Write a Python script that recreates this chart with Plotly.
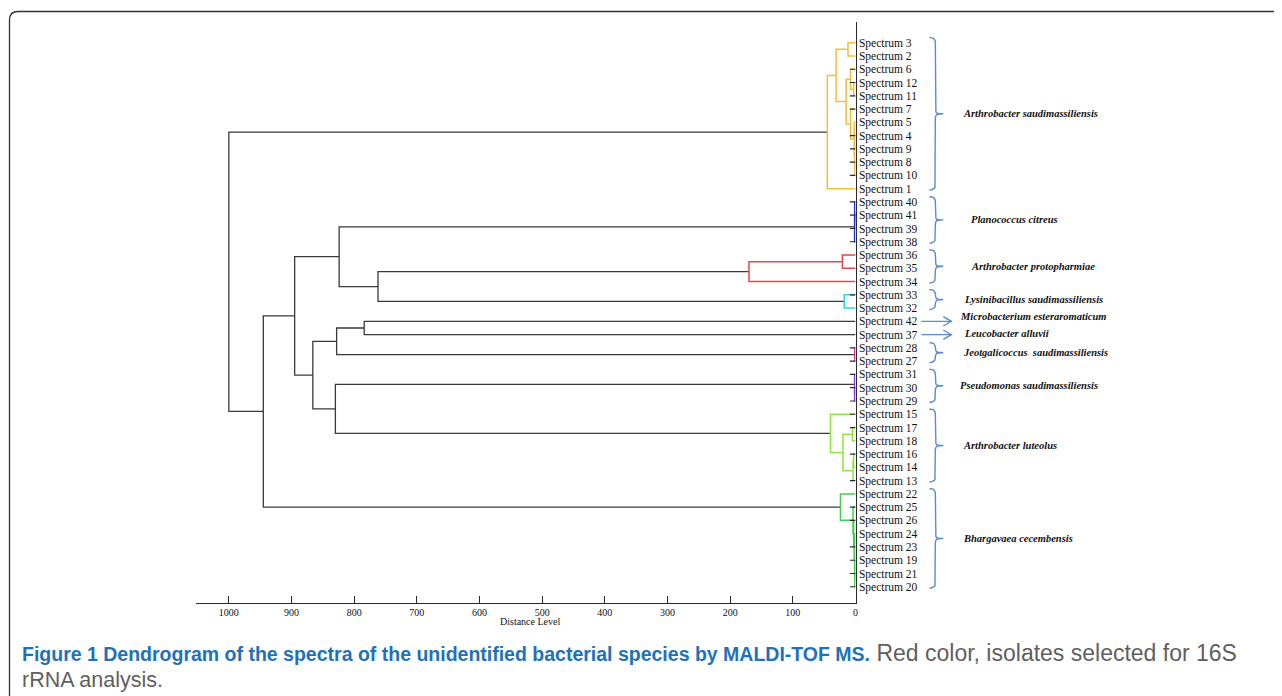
import plotly.graph_objects as go

W, H = 1282, 696
OFF = 8  # page body margin of the generated html

# ---------------- data ----------------
# leaf order, top to bottom (spectrum numbers)
leaf_ids = [3, 2, 6, 12, 11, 7, 5, 4, 9, 8, 10, 1,
            40, 41, 39, 38, 36, 35, 34, 33, 32, 42, 37,
            28, 27, 31, 30, 29, 15, 17, 18, 16, 14, 13,
            22, 25, 26, 24, 23, 19, 21, 20]

# merges: (node, left child, right child, distance level, cluster colour key)
merges = [
    ("y1", "S3", "S2", 12, "yellow"),
    ("y2", "S12", "S11", 3, "yellow"),
    ("y3", "S6", "y2", 8, "yellow"),
    ("y4", "S4", "S9", 1, "yellow"),
    ("y5", "S8", "S10", 1, "yellow"),
    ("y6", "y4", "y5", 1.5, "yellow"),
    ("y7", "S5", "y6", 2, "yellow"),
    ("y8", "S7", "y7", 8, "yellow"),
    ("y9", "y3", "y8", 15, "yellow"),
    ("y10", "y1", "y9", 31, "yellow"),
    ("yR", "y10", "S1", 45, "yellow"),
    ("p1", "S41", "S39", 1.3, "blue"),
    ("p2", "S40", "p1", 1.3, "blue"),
    ("p3", "p2", "S38", 1.5, "blue"),
    ("r1", "S36", "S35", 21, "red"),
    ("r2", "r1", "S34", 170, "red"),
    ("c1", "S33", "S32", 18, "cyan"),
    ("nB", "r2", "c1", 762, "black"),
    ("nA", "p3", "nB", 824, "black"),
    ("nG", "S42", "S37", 784, "black"),
    ("j1", "S28", "S27", 1.3, "pink"),
    ("nF", "nG", "j1", 828, "black"),
    ("q1", "S30", "S29", 1.3, "purple"),
    ("q2", "S31", "q1", 1.5, "purple"),
    ("l1", "S17", "S18", 5, "lime"),
    ("l2", "S16", "S14", 3, "lime"),
    ("l3", "l2", "S13", 4, "lime"),
    ("l4", "l1", "l3", 20, "lime"),
    ("l5", "S15", "l4", 40, "lime"),
    ("nH", "q2", "l5", 830, "black"),
    ("nE", "nF", "nH", 866, "black"),
    ("nC", "nA", "nE", 895, "black"),
    ("g1", "S21", "S20", 1, "green"),
    ("g2", "S19", "g1", 1.2, "green"),
    ("g3", "S23", "g2", 1.5, "green"),
    ("g4", "S24", "g3", 2, "green"),
    ("g5", "S26", "g4", 3, "green"),
    ("g6", "S25", "g5", 4, "green"),
    ("g7", "S22", "g6", 24, "green"),
    ("nD", "nC", "g7", 945, "black"),
    ("root", "yR", "nD", 1000, "black"),
]

# leaves carrying a short black leaf stub
stub_leaves = [6, 12, 11, 7, 4, 9, 8, 10, 40, 41, 39, 38, 33, 28, 27, 31, 30, 29,
               15, 17, 16, 13, 25, 26, 23, 19, 21, 20]
stub_length = 9

# species groups (first / last leaf position, 1-based)
species = ["Arthrobacter saudimassiliensis", "Planococcus citreus",
           "Arthrobacter protopharmiae", "Lysinibacillus saudimassiliensis",
           "Jeotgalicoccus  saudimassiliensis", "Pseudomonas saudimassiliensis",
           "Arthrobacter luteolus", "Bhargavaea cecembensis"]
species_first = [1, 13, 17, 20, 24, 26, 29, 35]
species_last = [12, 16, 19, 21, 25, 28, 34, 42]

arrow_species = ["Microbacterium esteraromaticum", "Leucobacter alluvii"]
arrow_leaf = [22, 23]

x_ticks = [0, 100, 200, 300, 400, 500, 600, 700, 800, 900, 1000]

caption_bold = "Figure 1 Dendrogram of the spectra of the unidentified bacterial species by MALDI-TOF MS."
caption_rest = "Red color, isolates selected for 16S"
caption_line2 = "rRNA analysis."

# ---------------- styles ----------------
colors = {
    "black": "#3a3a3a", "yellow": "#F3BE3A", "blue": "#1E32D8", "red": "#E5474B",
    "cyan": "#2FD6E6", "pink": "#D0359E", "purple": "#8B3CD6", "lime": "#8FE640",
    "green": "#3ED24E",
}
brace_color = "#5B8BD0"
serif = "Liberation Serif, Times New Roman, serif"
sans = "Liberation Sans, Arial, sans-serif"

# ---------------- dendrogram geometry ----------------
pos = {f"S{n}": (0.0, i + 1) for i, n in enumerate(leaf_ids)}
seg = {k: ([], []) for k in colors}
for name, a, b, h, key in merges:
    xa, ya = pos[a]
    xb, yb = pos[b]
    xs, ys = seg[key]
    xs += [xa, h, h, xb, None]
    ys += [ya, ya, yb, yb, None]
    pos[name] = (h, (ya + yb) / 2)

fig = go.Figure()
order = ["black", "yellow", "red", "cyan", "lime", "green", "blue", "pink", "purple"]
for key in order:
    xs, ys = seg[key]
    if not xs:
        continue
    fig.add_trace(go.Scatter(
        x=xs, y=ys, mode="lines", xaxis="x", yaxis="y",
        line=dict(color=colors[key], width=1.3 if key == "black" else 1.5),
        hoverinfo="skip", showlegend=False, cliponaxis=False))

sx, sy = [], []
for n in stub_leaves:
    yy = leaf_ids.index(n) + 1
    sx += [0, stub_length, None]
    sy += [yy, yy, None]
fig.add_trace(go.Scatter(x=sx, y=sy, mode="lines", xaxis="x", yaxis="y",
                         line=dict(color="#2a2a2a", width=1.2),
                         hoverinfo="skip", showlegend=False, cliponaxis=False))

# ---------------- braces & arrows (right panel, x2 in px from the zero line) ----------------
def bez(p0, p1, p2, n=8):
    out = []
    for i in range(n + 1):
        t = i / n
        out.append(((1 - t) ** 2 * p0[0] + 2 * (1 - t) * t * p1[0] + t ** 2 * p2[0],
                    (1 - t) ** 2 * p0[1] + 2 * (1 - t) * t * p1[1] + t ** 2 * p2[1]))
    return out

xl, xv, xt = 74, 80, 88
r = 0.35
bx, by = [], []
annots = []
label_font = dict(family=serif, size=10.5, color="#111", style="italic", weight="bold")
label_dx = [105.5, 114, 114, 106.5, 105.5, 102.5, 105.5, 105.5]
for sp, f, l, dx in zip(species, species_first, species_last, label_dx):
    top = f - 0.4
    bot = l + 0.1
    mid = (top + bot) / 2
    pts = bez((xl, top), (xv, top), (xv, top + r))
    pts += bez((xv, mid - r), (xv, mid), (xv + 4, mid))
    pts += [(xt, mid), (xv + 4, mid)]
    pts += bez((xv + 4, mid), (xv, mid), (xv, mid + r))
    pts += bez((xv, bot - r), (xv, bot), (xl, bot))
    bx += [p[0] for p in pts] + [None]
    by += [p[1] for p in pts] + [None]
    annots.append(dict(x=dx, y=mid, xref="x2", yref="y", text=sp, showarrow=False,
                       xanchor="left", yanchor="middle", font=label_font))

arrow_dx = [102.5, 106.5]
arrow_label_dy = [-0.4, -0.1]
for sp, lf, dx, dy in zip(arrow_species, arrow_leaf, arrow_dx, arrow_label_dy):
    bx += [66, 96, None, 88, 96, 88, None]
    by += [lf, lf, None, lf - 0.35, lf, lf + 0.35, None]
    annots.append(dict(x=dx, y=lf + dy, xref="x2", yref="y", text=sp, showarrow=False,
                       xanchor="left", yanchor="middle", font=label_font))

fig.add_trace(go.Scatter(x=bx, y=by, mode="lines", xaxis="x2", yaxis="y",
                         line=dict(color=brace_color, width=1.4),
                         hoverinfo="skip", showlegend=False, cliponaxis=False))

# ---------------- layout ----------------
def px(x):
    return (x - OFF) / W

def py(y):
    return 1 - (y - OFF) / H

y_top_idx = (22 - 42.7) / 13.27 + 1
y_bot_idx = (603 - 42.7) / 13.27 + 1

fig.update_layout(
    width=W, height=H, margin=dict(l=0, r=0, t=0, b=0),
    paper_bgcolor="white", plot_bgcolor="white",
    xaxis=dict(domain=[px(196.7), px(857.5)], range=[1052, 0], anchor="y",
               showline=True, linecolor="#2a2a2a", linewidth=1.2,
               ticks="inside", ticklen=7, tickwidth=1, tickcolor="#2a2a2a",
               tickvals=x_ticks, ticktext=[str(v) for v in x_ticks],
               tickfont=dict(family=serif, size=10, color="#111"),
               showgrid=False, zeroline=False, fixedrange=True),
    xaxis2=dict(domain=[px(857.5), 1], range=[0, W - 857.5 + OFF], anchor="y",
                visible=False, fixedrange=True),
    yaxis=dict(domain=[py(603), py(22)], range=[y_bot_idx, y_top_idx], anchor="x",
               side="right", showline=True, linecolor="#2a2a2a", linewidth=1.2,
               tickvals=list(range(1, len(leaf_ids) + 1)),
               ticktext=[f"Spectrum {n}" for n in leaf_ids], ticks="",
               tickfont=dict(family=serif, size=11.5, color="#111"),
               showgrid=False, zeroline=False, fixedrange=True),
    annotations=annots + [
        dict(x=px(531), y=py(621), xref="paper", yref="paper", text="Distance Level",
             showarrow=False, xanchor="center", yanchor="middle",
             font=dict(family=serif, size=10, color="#111")),
        dict(x=px(20), y=py(653), xref="paper", yref="paper",
             text=f"<b>{caption_bold}</b>"
                  f"<span style='color:#5f5f5f;font-size:23px'> {caption_rest}</span>",
             showarrow=False, xanchor="left", yanchor="middle",
             font=dict(family=sans, size=19.5, color="#1F72B8")),
        dict(x=px(20), y=py(680), xref="paper", yref="paper", text=caption_line2,
             showarrow=False, xanchor="left", yanchor="middle",
             font=dict(family=sans, size=21.5, color="#5f5f5f")),
    ],
    shapes=[dict(type="path", xref="paper", yref="paper",
                 path=(f"M 1.02,{py(11.5)} L {px(18)},{py(11.5)} "
                       f"Q {px(9.5)},{py(11.5)} {px(9.5)},{py(20)} "
                       f"L {px(9.5)},{py(720)}"),
                 line=dict(color="#333", width=1.3))],
)

fig.write_html("out.html")
